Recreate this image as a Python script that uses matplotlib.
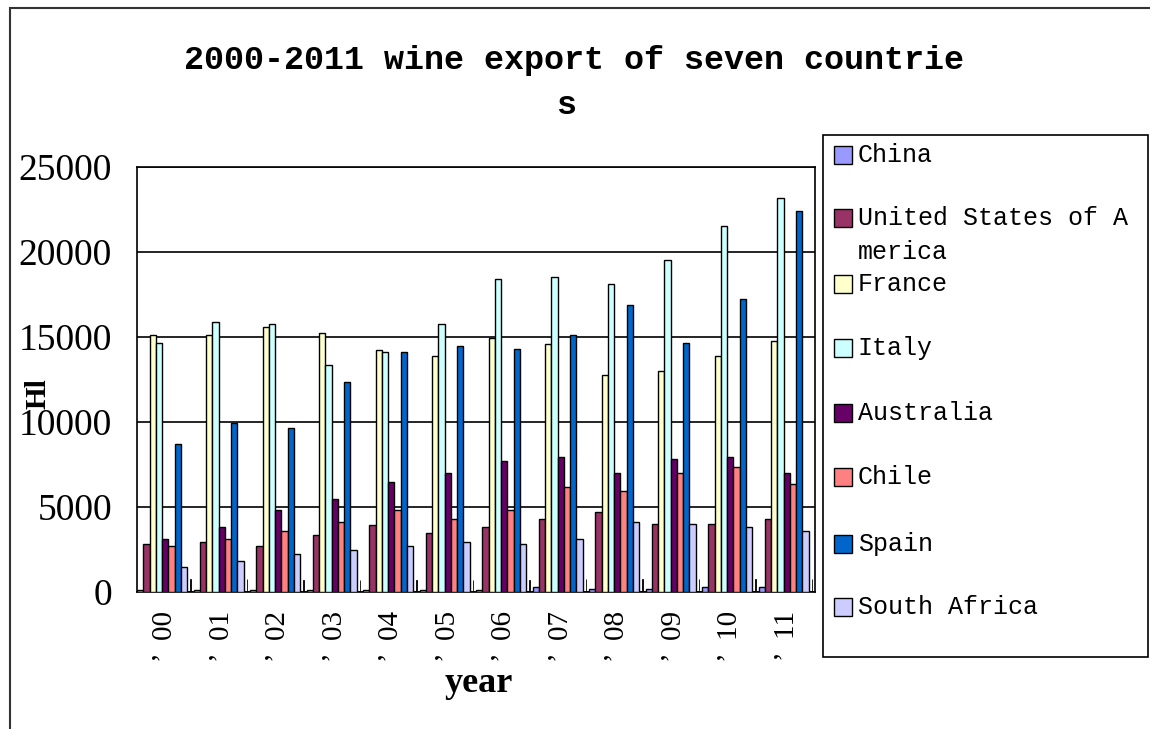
"""
2000-2011 wine export of seven countries - grouped bar chart
"""

import numpy as np
import matplotlib
matplotlib.use("Agg")
import matplotlib.pyplot as plt
from matplotlib.patches import Rectangle


# -------------------------------------------------
# Data (Hl)
# -------------------------------------------------

years = ["00", "01", "02", "03", "04", "05", "06", "07", "08", "09", "10", "11"]

china = [60, 70, 60, 60, 80, 80, 90, 250, 120, 120, 250, 250]
usa = [2800, 2900, 2700, 3350, 3900, 3450, 3800, 4250, 4700, 4000, 4000, 4250]
france = [15100, 15100, 15550, 15200, 14200, 13850, 14900, 14550, 12750, 13000, 13850, 14750]
italy = [14650, 15850, 15750, 13350, 14100, 15750, 18400, 18500, 18100, 19500, 21500, 23150]
australia = [3100, 3800, 4800, 5450, 6450, 7000, 7700, 7900, 7000, 7800, 7900, 7000]
chile = [2700, 3100, 3550, 4100, 4800, 4250, 4800, 6150, 5900, 7000, 7350, 6350]
spain = [8700, 9950, 9650, 12350, 14100, 14450, 14300, 15100, 16900, 14650, 17200, 22400]
south_africa = [1450, 1800, 2200, 2450, 2700, 2900, 2800, 3100, 4100, 4000, 3800, 3550]
# unnamed thin series drawn after South Africa in every group
other = [730, 720, 700, 700, 700, 700, 700, 720, 725, 725, 720, 720]

series_names = ["China", "United States of A\nmerica", "France", "Italy",
                "Australia", "Chile", "Spain", "South Africa"]
series_values = [china, usa, france, italy, australia, chile, spain, south_africa]
series_colors = ["#9999FF", "#993366", "#FFFFCC", "#CCFFFF",
                 "#660066", "#FF8080", "#0066CC", "#CCCCFF"]


# -------------------------------------------------
# Figure / axes
# -------------------------------------------------

W, H = 1150, 729
fig = plt.figure(figsize=(W / 100, H / 100), dpi=100)
fig.patch.set_facecolor("white")

def fx(px):
    return px / W

def fy(py):
    return 1 - py / H

# outer chart border
fig.patches.append(Rectangle((fx(10), -0.1), 1.2, fy(8) + 0.1,
                             transform=fig.transFigure, fill=False,
                             edgecolor="#333333", linewidth=1.5))

ax = fig.add_axes([fx(137), fy(591.5), fx(815) - fx(137), fy(167) - fy(591.5)])

slot = 1 / 9
x = np.arange(len(years))

for k, (vals, col) in enumerate(zip(series_values, series_colors)):
    ax.bar(x + (k + 0.5) * slot, vals, width=slot, color=col,
           edgecolor="black", linewidth=1.0, zorder=3)

ax.bar(x + 8.5 * slot, other, width=0.012, color="black",
       edgecolor="black", linewidth=0.6, zorder=3)

ax.set_xlim(0, len(years))
ax.set_ylim(0, 25000)
ax.set_yticks(np.arange(0, 25001, 5000))
ax.yaxis.grid(True, color="black", linewidth=1.2, zorder=0)
ax.set_axisbelow(True)

for s in ax.spines.values():
    s.set_color("black")
    s.set_linewidth(1.2)

ax.set_xticks(x + 0.5)
ax.set_xticklabels(["\u2019  " + y for y in years], rotation=90,
                   family="Liberation Serif", fontsize=21)
ax.tick_params(axis="x", length=0, pad=14)
ax.tick_params(axis="y", length=0, pad=18)
for lab in ax.get_yticklabels():
    lab.set_family("Liberation Serif")
    lab.set_fontsize(27)

ax.set_ylabel("Hl", family="Liberation Serif", fontweight="bold", fontsize=21)
ax.yaxis.set_label_coords((38 - 137) / 678, (591.5 - 394) / 424.5)
ax.yaxis.label.set_va("center")
ax.yaxis.label.set_ha("center")
ax.set_xlabel("year", family="Liberation Serif", fontweight="bold", fontsize=26)
ax.xaxis.set_label_coords((479 - 137) / 678, -(684 - 591.5) / 424.5)
ax.xaxis.label.set_va("center")


# -------------------------------------------------
# Title
# -------------------------------------------------

fig.text(fx(574), fy(60), "2000-2011 wine export of seven countrie",
         family="Liberation Mono", fontweight="bold", fontsize=24,
         ha="center", va="center")
fig.text(fx(566), fy(105), "s",
         family="Liberation Mono", fontweight="bold", fontsize=24,
         ha="center", va="center")


# -------------------------------------------------
# Legend (drawn by hand, Excel style)
# -------------------------------------------------

fig.patches.append(Rectangle((fx(823), fy(657)), fx(1148) - fx(823), fy(135) - fy(657),
                             transform=fig.transFigure, facecolor="white",
                             edgecolor="black", linewidth=1.2))

entry_y = [155, 218, 284, 348, 413, 477, 544, 607]
for name, col, yy in zip(series_names, series_colors, entry_y):
    fig.patches.append(Rectangle((fx(834), fy(yy + 9)), fx(852) - fx(834), fy(yy - 9) - fy(yy + 9),
                                 transform=fig.transFigure, facecolor=col,
                                 edgecolor="black", linewidth=1.0))
    for j, line in enumerate(name.split("\n")):
        fig.text(fx(858), fy(yy + 34 * j), line, family="Liberation Mono",
                 fontsize=18, ha="left", va="center")


# -------------------------------------------------
# Save
# -------------------------------------------------

fig.savefig("out.png", dpi=100, facecolor="white")
